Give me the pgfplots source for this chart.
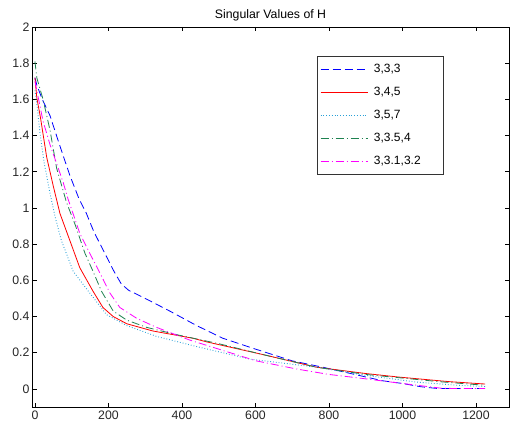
\documentclass[border=0pt]{standalone}
\usepackage{pgfplots}
\pgfplotsset{compat=1.18}
\usepackage{fontspec}
\setmainfont{Liberation Sans}
\definecolor{mblue}{RGB}{0,0,255}
\definecolor{mred}{RGB}{255,0,0}
\definecolor{mcyan}{RGB}{40,160,215}
\definecolor{mgreen}{RGB}{30,130,80}
\definecolor{mmag}{RGB}{255,0,255}
\begin{document}
\begin{tikzpicture}
\begin{axis}[
  scale only axis,
  width=477pt, height=380pt,
  xmin=-8, xmax=1290, ymin=-0.1, ymax=2,
  xtick={0,200,400,600,800,1000,1200},
  ytick={0,0.2,0.4,0.6,0.8,1,1.2,1.4,1.6,1.8,2},
  yticklabels={0,0.2,0.4,0.6,0.8,1,1.2,1.4,1.6,1.8,2},
  xticklabels={0,200,400,600,800,1000,1200},
  tick label style={font=\fontsize{12.3}{14}\selectfont, text=black!85},
  yticklabel style={xshift=1pt},
  major tick length=4.5pt,
  tick style={black, line width=0.6pt},
  axis line style={black, line width=0.6pt},
  title={Singular Values of H},
  title style={font=\fontsize{12.3}{14}\selectfont, yshift=-4pt},
  legend style={at={(0.597,0.924)}, anchor=north west, draw=black!80, line width=0.6pt,
    font=\fontsize{12}{14}\selectfont, row sep=9.2pt, inner ysep=6pt, inner xsep=3pt},
  legend cell align=left,
  legend image code/.code={\draw[#1] (3pt,0pt) -- (50pt,0pt); \path (54pt,0pt);},
  every axis plot/.append style={line width=0.8pt},
]
\addplot[mblue, dash pattern=on 8pt off 4pt] coordinates {
(0,1.72)(5,1.68)(20,1.60)(41,1.51)(70,1.33)(95,1.18)(120,1.05)(140,0.97)(160,0.87)(180,0.79)(200,0.71)(215,0.65)(235,0.58)(255,0.545)(280,0.52)(300,0.50)(367,0.43)(440,0.35)(511,0.28)(600,0.22)(700,0.155)(783,0.12)(870,0.08)(946,0.045)(1000,0.03)(1050,0.012)(1092,0.003)(1150,0.002)(1225,0.002)};
\addlegendentry{\makebox[64pt][l]{3,3,3}}
\addplot[mred] coordinates {
(0,1.72)(5,1.61)(15,1.50)(32,1.28)(50,1.12)(68,0.97)(95,0.82)(122,0.67)(158,0.54)(185,0.45)(213,0.40)(250,0.36)(321,0.32)(430,0.28)(467,0.26)(620,0.19)(766,0.12)(900,0.085)(992,0.065)(1128,0.04)(1225,0.027)};
\addlegendentry{3,4,5}
\addplot[mcyan, dotted, line width=0.9pt] coordinates {
(0,1.65)(5,1.58)(14,1.41)(25,1.25)(41,1.08)(55,0.95)(72,0.82)(104,0.65)(149,0.53)(195,0.41)(250,0.35)(331,0.29)(448,0.23)(584,0.165)(766,0.12)(900,0.075)(1037,0.038)(1150,0.02)(1225,0.013)};
\addlegendentry{3,5,7}
\addplot[mgreen, dash pattern=on 8pt off 3pt on 1pt off 3pt] coordinates {
(0,1.81)(5,1.72)(22,1.60)(41,1.43)(59,1.22)(86,1.03)(109,0.91)(136,0.75)(158,0.65)(181,0.54)(213,0.43)(250,0.38)(304,0.34)(385,0.30)(500,0.25)(620,0.19)(766,0.12)(900,0.08)(1000,0.06)(1100,0.04)(1225,0.02)};
\addlegendentry{3,3.5,4}
\addplot[mmag, dash pattern=on 8pt off 3pt on 1pt off 3pt] coordinates {
(0,1.70)(10,1.60)(22,1.48)(41,1.35)(60,1.24)(77,1.14)(90,1.05)(122,0.86)(149,0.75)(177,0.64)(204,0.53)(231,0.45)(277,0.39)(331,0.34)(421,0.27)(500,0.22)(602,0.155)(712,0.11)(800,0.08)(883,0.06)(1000,0.03)(1109,0.003)(1225,0.002)};
\addlegendentry{3,3.1,3.2}
\end{axis}
\pgfresetboundingbox
\path ([xshift=-32pt,yshift=-21pt]current axis.south west) rectangle ([xshift=3pt,yshift=27pt]current axis.north east);
\end{tikzpicture}
\end{document}
